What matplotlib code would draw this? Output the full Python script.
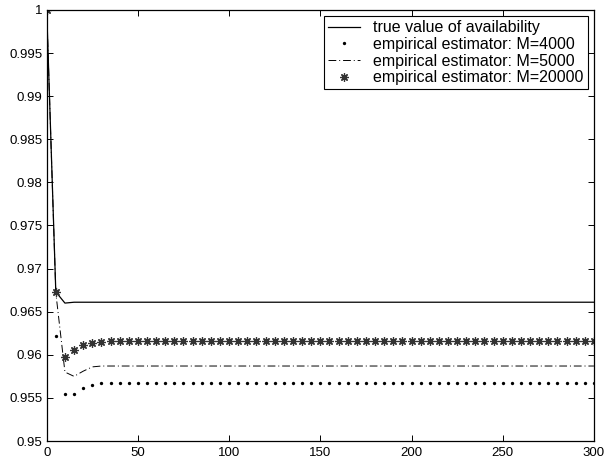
import numpy as np
import matplotlib
matplotlib.use("Agg")
from matplotlib import pyplot as plt

plt.rcParams['font.family'] = ['Liberation Sans', 'DejaVu Sans']

# time grid (every 5 units) and values
t = np.arange(0, 301, 5)
n = len(t)

true_head = [1.0, 0.9673, 0.9660, 0.9661]
true_plateau = 0.9661
m4000_head = [1.0, 0.9622, 0.9555, 0.9554, 0.9562, 0.9565, 0.9567]
m4000_plateau = 0.9567
m5000_head = [1.0, 0.9672, 0.9580, 0.9575, 0.9581, 0.9586, 0.9587]
m5000_plateau = 0.9587
m20000_head = [1.0, 0.9673, 0.9598, 0.9606, 0.9611, 0.9614, 0.9615, 0.9616]
m20000_plateau = 0.9616

labels = ["true value of availability",
          "empirical estimator: M=4000",
          "empirical estimator: M=5000",
          "empirical estimator: M=20000"]

yticks = [0.95, 0.955, 0.96, 0.965, 0.97, 0.975, 0.98, 0.985, 0.99, 0.995, 1.0]
ytick_labels = ["0.95", "0.955", "0.96", "0.965", "0.97", "0.975",
                "0.98", "0.985", "0.99", "0.995", "1"]
xticks = [0, 50, 100, 150, 200, 250, 300]


def series(head, plateau):
    return np.concatenate([head, np.full(n - len(head), plateau)])


fig = plt.figure(figsize=(6.04, 4.66), dpi=100)
ax = fig.add_axes([0.0773, 0.0536, 0.906, 0.925])

ax.plot(t, series(true_head, true_plateau), '-', color='black', lw=0.9, label=labels[0])
ax.plot(t, series(m4000_head, m4000_plateau), 'o', color='black', ms=2.4, mew=0, label=labels[1])
ax.plot(t, series(m5000_head, m5000_plateau), '-.', color='black', lw=0.7,
        dashes=(8, 3, 1, 3), label=labels[2])
ax.plot(t, series(m20000_head, m20000_plateau), linestyle='none', marker=(8, 2, 0),
        color='#333333', ms=6, mew=0.9, label=labels[3])

ax.set_xlim(0, 300)
ax.set_ylim(0.95, 1.0)
ax.set_xticks(xticks)
ax.set_xticklabels([str(v) for v in xticks])
ax.set_yticks(yticks)
ax.set_yticklabels(ytick_labels)
ax.tick_params(direction='in', length=4, width=0.7, top=True, right=True,
               labelsize=9.5, pad=3)
ax.tick_params(axis='x', pad=4)
for s in ax.spines.values():
    s.set_linewidth(0.9)

leg = ax.legend(loc='upper right', fontsize=11.5, numpoints=1, handlelength=2.0,
                handletextpad=0.8, labelspacing=0.1, borderpad=0.25,
                borderaxespad=0.4, fancybox=False, framealpha=1)
leg.get_frame().set_edgecolor('black')
leg.get_frame().set_linewidth(0.8)

fig.savefig("out.png", dpi=100)
